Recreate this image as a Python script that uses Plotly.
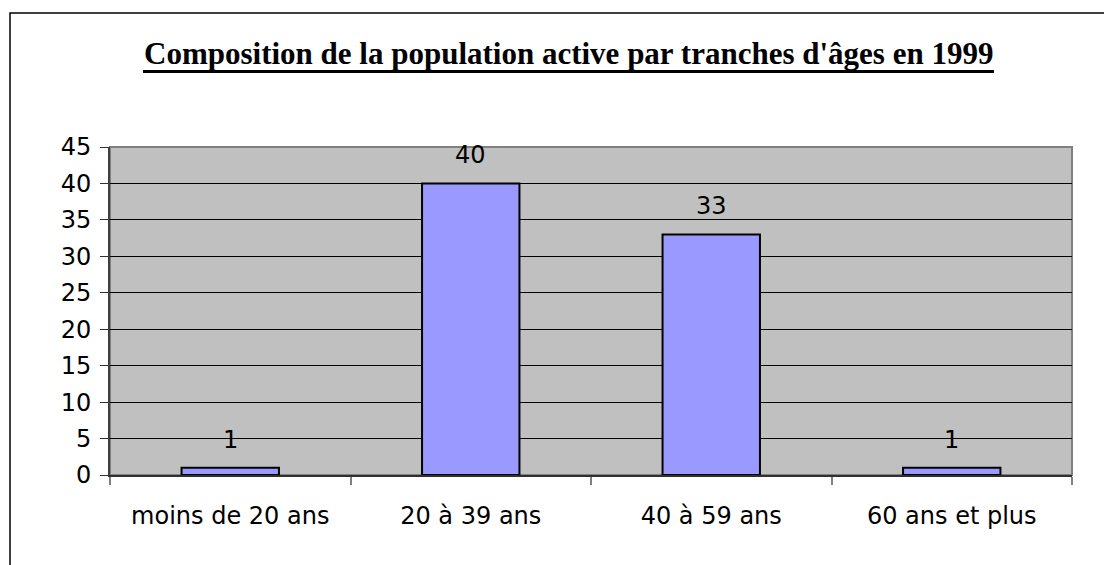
import plotly.graph_objects as go

# data
categories = ["moins de 20 ans", "20 à 39 ans", "40 à 59 ans", "60 ans et plus"]
values = [1, 40, 33, 1]
y_ticks = [0, 5, 10, 15, 20, 25, 30, 35, 40, 45]

title_text = "Composition de la population active par tranches d'âges en 1999"

fig = go.Figure()

fig.add_trace(go.Bar(
    x=categories, y=values,
    marker=dict(color="#9999FF", line=dict(color="black", width=2)),
    width=0.405,
    showlegend=False,
    hoverinfo="skip",
))

# value labels, set a bit above the bars like the original
for cat, val in zip(categories, values):
    fig.add_annotation(
        x=cat, y=val, text=str(val),
        showarrow=False, yanchor="bottom", yshift=12,
        font=dict(family="DejaVu Sans", size=24, color="black"),
    )

# title (serif bold) with a thick underline drawn as a shape
fig.add_annotation(
    xref="paper", yref="paper",
    x=(568.5 - 110) / 962, y=1.285,
    xanchor="center", yanchor="middle",
    text="<b>" + title_text + "</b>",
    showarrow=False,
    font=dict(family="Liberation Serif", size=31, color="black"),
)
fig.add_shape(
    type="line", xref="paper", yref="paper",
    x0=(143 - 110) / 962, x1=(994 - 110) / 962,
    y0=(475 - 71.5) / 328, y1=(475 - 71.5) / 328,
    line=dict(color="black", width=3),
)

# outer frame of the chart object
fig.add_shape(
    type="rect", xref="paper", yref="paper",
    x0=(10 - 110) / 962, x1=1.2,
    y0=-0.5, y1=(475 - 13) / 328,
    line=dict(color="black", width=1.5),
    fillcolor="rgba(0,0,0,0)",
)

fig.update_xaxes(
    type="category",
    tickson="boundaries",
    ticks="outside", ticklen=8, tickcolor="#808080", tickwidth=2,
    showline=True, linecolor="#303030", linewidth=2,
    showgrid=False,
    ticklabelstandoff=18,
    tickfont=dict(family="DejaVu Sans", size=24, color="black"),
)
fig.update_yaxes(
    range=[0, 45],
    tickvals=y_ticks,
    ticks="outside", ticklen=8, tickcolor="#303030", tickwidth=1,
    showline=True, linecolor="#404040", linewidth=2,
    showgrid=True, gridcolor="black", gridwidth=1,
    zeroline=False,
    ticklabelstandoff=4,
    tickfont=dict(family="DejaVu Sans", size=24, color="black"),
)

# the page puts the figure 8px in from the corner, so the figure is 16px smaller
fig.update_layout(
    width=1104, height=557,
    margin=dict(l=102, r=40, t=139, b=90),
    plot_bgcolor="#C0C0C0",
    paper_bgcolor="white",
    bargap=0.595,
    shapes=list(fig.layout.shapes) + [dict(
        type="rect", xref="paper", yref="paper",
        x0=0, x1=1, y0=0, y1=1,
        line=dict(color="#808080", width=2), layer="below",
    )],
)

fig.write_html("out.html")
